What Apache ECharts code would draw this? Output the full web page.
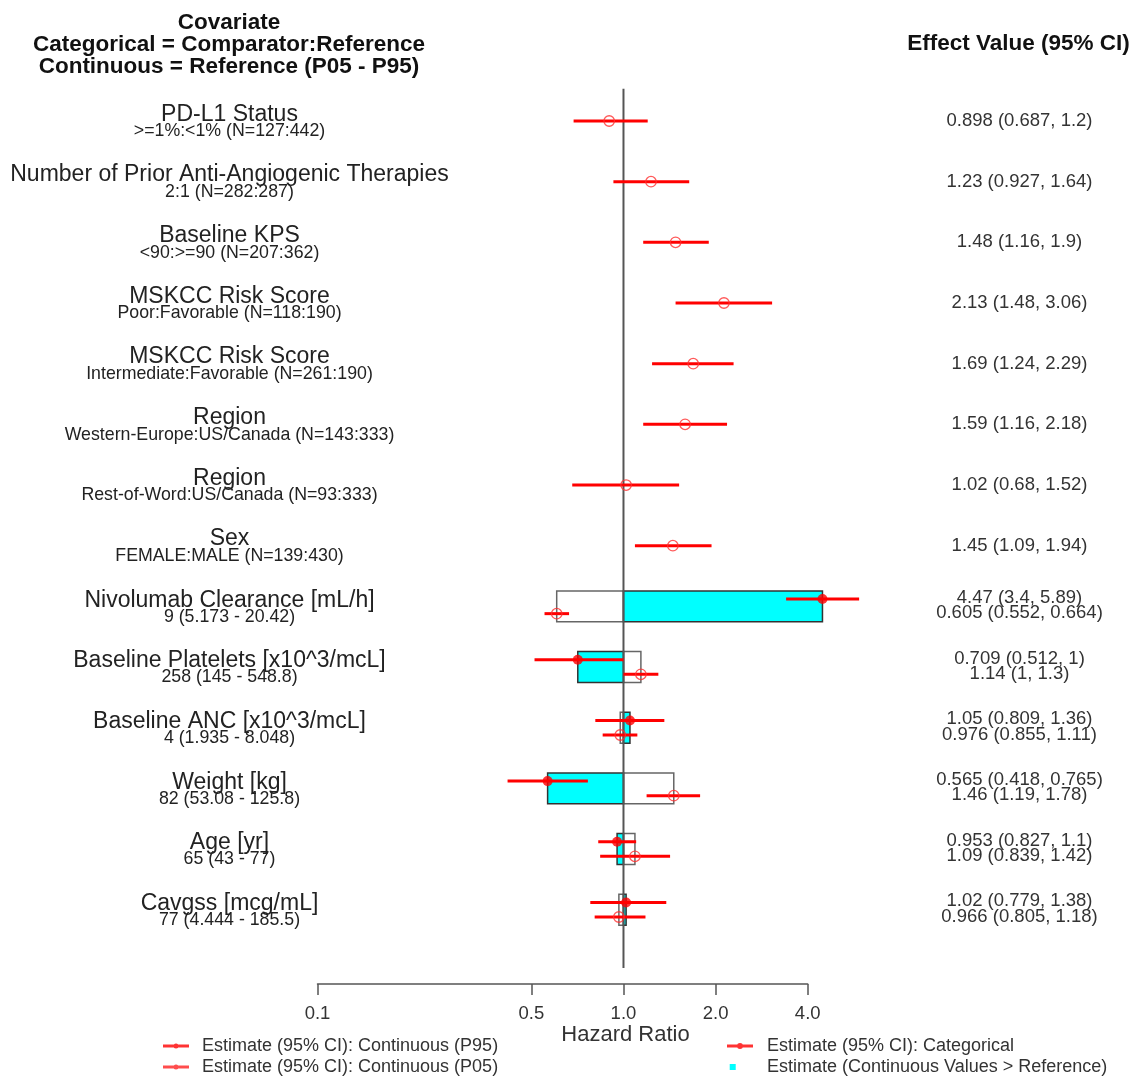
<!DOCTYPE html>
<html>
<head>
<meta charset="utf-8">
<script src="https://cdn.jsdelivr.net/npm/echarts@6/dist/echarts.min.js"></script>
<style>html,body{margin:0;padding:0;background:#fff}#c{width:1136px;height:1077px}</style>
</head>
<body>
<div id="c"></div>
<script>
// ---------- DATA ----------
const catNames = ["PD-L1 Status", "Number of Prior Anti-Angiogenic Therapies", "Baseline KPS",
  "MSKCC Risk Score", "MSKCC Risk Score", "Region", "Region", "Sex"];
const catSubs = [">=1%:<1% (N=127:442)", "2:1 (N=282:287)", "<90:>=90 (N=207:362)",
  "Poor:Favorable (N=118:190)", "Intermediate:Favorable (N=261:190)",
  "Western-Europe:US/Canada (N=143:333)", "Rest-of-Word:US/Canada (N=93:333)", "FEMALE:MALE (N=139:430)"];
const catEst = [0.898, 1.23, 1.48, 2.13, 1.69, 1.59, 1.02, 1.45];
const catLo  = [0.687, 0.927, 1.16, 1.48, 1.24, 1.16, 0.68, 1.09];
const catHi  = [1.2, 1.64, 1.9, 3.06, 2.29, 2.18, 1.52, 1.94];

const contNames = ["Nivolumab Clearance [mL/h]", "Baseline Platelets [x10^3/mcL]", "Baseline ANC [x10^3/mcL]",
  "Weight [kg]", "Age [yr]", "Cavgss [mcg/mL]"];
const contSubs = ["9 (5.173 - 20.42)", "258 (145 - 548.8)", "4 (1.935 - 8.048)",
  "82 (53.08 - 125.8)", "65 (43 - 77)", "77 (4.444 - 185.5)"];
const p95Est = [4.47, 0.709, 1.05, 0.565, 0.953, 1.02];
const p95Lo  = [3.4, 0.512, 0.809, 0.418, 0.827, 0.779];
const p95Hi  = [5.89, 1, 1.36, 0.765, 1.1, 1.38];
const p05Est = [0.605, 1.14, 0.976, 1.46, 1.09, 0.966];
const p05Lo  = [0.552, 1, 0.855, 1.19, 0.839, 0.805];
const p05Hi  = [0.664, 1.3, 1.11, 1.78, 1.42, 1.18];

const xTicks = [0.1, 0.5, 1, 2, 4];

// ---------- LAYOUT ----------
const FONT = '"Liberation Sans", Arial, Helvetica, sans-serif';
const gridLeft = 317.5, gridRightPx = 807.7, gridTop = 90.67, rowPx = 60.67, axisY = 984;
const yMin = 0.5;
const yMax = yMin + (axisY - gridTop) / rowPx;
const UP = -0.12, DN = 0.12, HALF = 0.255;
const nCat = catNames.length;
const fmt = v => String(Number(v.toPrecision(3)));
const eff = (e, l, h) => fmt(e) + ' (' + fmt(l) + ', ' + fmt(h) + ')';

const leftMain = [], leftSub = [], rightA = [], rightB = [];
const ciData = [], catPts = [], upPts = [], dnPts = [], cyanBars = [], whiteBars = [];
catNames.forEach((n, i) => {
  const r = i + 1;
  leftMain.push([r - 0.11, n]);
  leftSub.push([r + 0.17, catSubs[i]]);
  rightA.push([r, eff(catEst[i], catLo[i], catHi[i])]);
  ciData.push([catLo[i], catHi[i], r]);
  catPts.push([catEst[i], r]);
});
contNames.forEach((n, j) => {
  const r = nCat + 1 + j;
  leftMain.push([r - 0.1, n]);
  leftSub.push([r + 0.17, contSubs[j]]);
  rightA.push([r - 0.14, eff(p95Est[j], p95Lo[j], p95Hi[j])]);
  rightB.push([r + 0.115, eff(p05Est[j], p05Lo[j], p05Hi[j])]);
  cyanBars.push([p95Est[j], r]);
  whiteBars.push([p05Est[j], r]);
  ciData.push([p95Lo[j], p95Hi[j], r + UP]);
  ciData.push([p05Lo[j], p05Hi[j], r + DN]);
  upPts.push([p95Est[j], r + UP]);
  dnPts.push([p05Est[j], r + DN]);
});

const lookup = arr => v => { const f = arr.find(a => Math.abs(a[0] - v) < 1e-6); return f ? f[1] : ''; };

const N_P95 = 'Estimate (95% CI): Continuous (P95)';
const N_P05 = 'Estimate (95% CI): Continuous (P05)';
const N_CAT = 'Estimate (95% CI): Categorical';
const N_CYAN = 'Estimate (Continuous Values > Reference)';

const lineIconSmall = 'path://M0,1.6L26,1.6L26,4.4L0,4.4Z M10.5,3a2.5,2.5 0 1,1 5,0a2.5,2.5 0 1,1 -5,0Z';
const lineIconBig = 'path://M0,1.6L26,1.6L26,4.4L0,4.4Z M10,3a3,3 0 1,1 6,0a3,3 0 1,1 -6,0Z';
const squareIcon = 'path://M0,0L0.01,0L0,0.01Z M26,6L25.99,6L26,5.99Z M1,-1L8,-1L8,6L1,6Z';

function yAxisText(arr, size, pos, margin, color) {
  return {
    type: 'value', min: yMin, max: yMax, inverse: true, position: pos,
    axisLine: { show: false }, axisTick: { show: false }, splitLine: { show: false },
    axisLabel: {
      customValues: arr.map(a => a[0]), formatter: lookup(arr),
      showMinLabel: true, showMaxLabel: true, hideOverlap: false,
      align: 'center', margin: margin, fontSize: size, color: color, fontFamily: FONT
    }
  };
}

const barRender = (fill, stroke) => (params, api) => {
  const v = api.value(0), r = api.value(1);
  const a = api.coord([1, r - HALF]), b = api.coord([v, r + HALF]);
  return {
    type: 'rect',
    shape: { x: Math.min(a[0], b[0]), y: Math.min(a[1], b[1]), width: Math.abs(b[0] - a[0]), height: Math.abs(b[1] - a[1]) },
    style: { fill: fill, stroke: stroke, lineWidth: 1.5 }
  };
};

const chart = echarts.init(document.getElementById('c'), null, { renderer: 'canvas' });
const option = {
  animation: false,
  backgroundColor: '#fff',
  textStyle: { fontFamily: FONT },
  grid: { left: gridLeft, right: 1136 - gridRightPx, top: gridTop, bottom: 1077 - axisY, containLabel: false, outerBoundsMode: 'none' },
  xAxis: {
    type: 'log', logBase: 10, min: 0.1, max: 4,
    axisLine: { show: true, lineStyle: { color: '#555', width: 1.5 } },
    axisTick: { show: true, customValues: xTicks, length: 11, lineStyle: { color: '#555', width: 1.5 } },
    axisLabel: { customValues: xTicks, formatter: v => Number(v).toFixed(1), margin: 20, fontSize: 18.5, color: '#333', fontFamily: FONT,
      showMinLabel: true, showMaxLabel: true },
    splitLine: { show: false }, minorTick: { show: false }
  },
  yAxis: [
    yAxisText(leftMain, 23, 'left', gridLeft - 229.5, '#222'),
    yAxisText(leftSub, 17.75, 'left', gridLeft - 229.5, '#222'),
    yAxisText(rightA, 18.5, 'right', 1019.5 - gridRightPx, '#333'),
    yAxisText(rightB, 18.5, 'right', 1019.5 - gridRightPx, '#333')
  ],
  legend: [
    {
      orient: 'vertical', left: 163, top: 1037, padding: 0, itemGap: 3, itemWidth: 26, itemHeight: 6,
      selectedMode: false,
      textStyle: { fontSize: 18, color: '#333', lineHeight: 18, padding: [0, 0, 0, 8], fontFamily: FONT },
      data: [
        { name: N_P95, icon: lineIconSmall, itemStyle: { color: '#ff0000', borderWidth: 0 } },
        { name: N_P05, icon: lineIconSmall, itemStyle: { color: '#ff2020', borderWidth: 0 } }
      ]
    },
    {
      orient: 'vertical', left: 727, top: 1037, padding: 0, itemGap: 3, itemWidth: 26, itemHeight: 6,
      selectedMode: false,
      textStyle: { fontSize: 18, color: '#333', lineHeight: 18, padding: [0, 0, 0, 9], fontFamily: FONT },
      data: [
        { name: N_CAT, icon: lineIconBig, itemStyle: { color: '#ff0000', borderWidth: 0 } },
        { name: N_CYAN, icon: squareIcon, itemStyle: { color: '#00ffff', borderWidth: 0 } }
      ]
    }
  ],
  series: [
    { type: 'custom', name: 'P05 bar', renderItem: barRender('#ffffff', '#666'), data: whiteBars, encode: { x: 0, y: 1 }, z: 1, silent: true },
    { type: 'custom', name: N_CYAN, renderItem: barRender('#00ffff', '#333'), data: cyanBars, encode: { x: 0, y: 1 }, itemStyle: { color: '#00ffff' }, z: 2, silent: true },
    { type: 'line', name: 'ref', data: [[1, 0.47], [1, 14.96]], symbol: 'none', clip: false,
      lineStyle: { color: '#555', width: 2 }, z: 3, silent: true },
    { type: 'custom', name: 'CI', data: ciData, encode: { x: [0, 1], y: 2 }, z: 4, silent: true,
      renderItem: (params, api) => {
        const p1 = api.coord([api.value(0), api.value(2)]);
        const p2 = api.coord([api.value(1), api.value(2)]);
        return { type: 'line', shape: { x1: p1[0], y1: p1[1], x2: p2[0], y2: p2[1] }, style: { stroke: '#ff0000', lineWidth: 3 } };
      } },
    { type: 'scatter', name: N_CAT, data: catPts, symbol: 'circle', symbolSize: 10.5, clip: false, z: 5,
      itemStyle: { color: 'rgba(255,255,255,0)', borderColor: '#ff3030', borderWidth: 1.3 } },
    { type: 'scatter', name: N_P95, data: upPts, symbol: 'circle', symbolSize: 10, clip: false, z: 5,
      itemStyle: { color: '#ff0000' } },
    { type: 'scatter', name: N_P05, data: dnPts, symbol: 'circle', symbolSize: 10.5, clip: false, z: 5,
      itemStyle: { color: 'rgba(255,255,255,0)', borderColor: '#ff3030', borderWidth: 1.3 } }
  ],
  graphic: [
    { type: 'text', id: 'h1', x: 229, y: 23, style: { text: 'Covariate', font: 'bold 22.5px ' + FONT, fill: '#111', align: 'center', verticalAlign: 'middle' } },
    { type: 'text', id: 'h2', x: 229, y: 45, style: { text: 'Categorical = Comparator:Reference', font: 'bold 22.5px ' + FONT, fill: '#111', align: 'center', verticalAlign: 'middle' } },
    { type: 'text', id: 'h3', x: 229, y: 66.5, style: { text: 'Continuous = Reference (P05 - P95)', font: 'bold 22.5px ' + FONT, fill: '#111', align: 'center', verticalAlign: 'middle' } },
    { type: 'text', id: 'h4', x: 1018.5, y: 43.5, style: { text: 'Effect Value (95% CI)', font: 'bold 22.5px ' + FONT, fill: '#111', align: 'center', verticalAlign: 'middle' } }
  ]
};
chart.setOption(option);
const xOne = chart.convertToPixel({ xAxisIndex: 0 }, 1);
chart.setOption({
  graphic: [
    { type: 'text', id: 'hr', x: xOne + 2, y: 1035, style: { text: 'Hazard Ratio', font: '22px ' + FONT, fill: '#333', align: 'center', verticalAlign: 'middle' } }
  ]
});
</script>
</body>
</html>
